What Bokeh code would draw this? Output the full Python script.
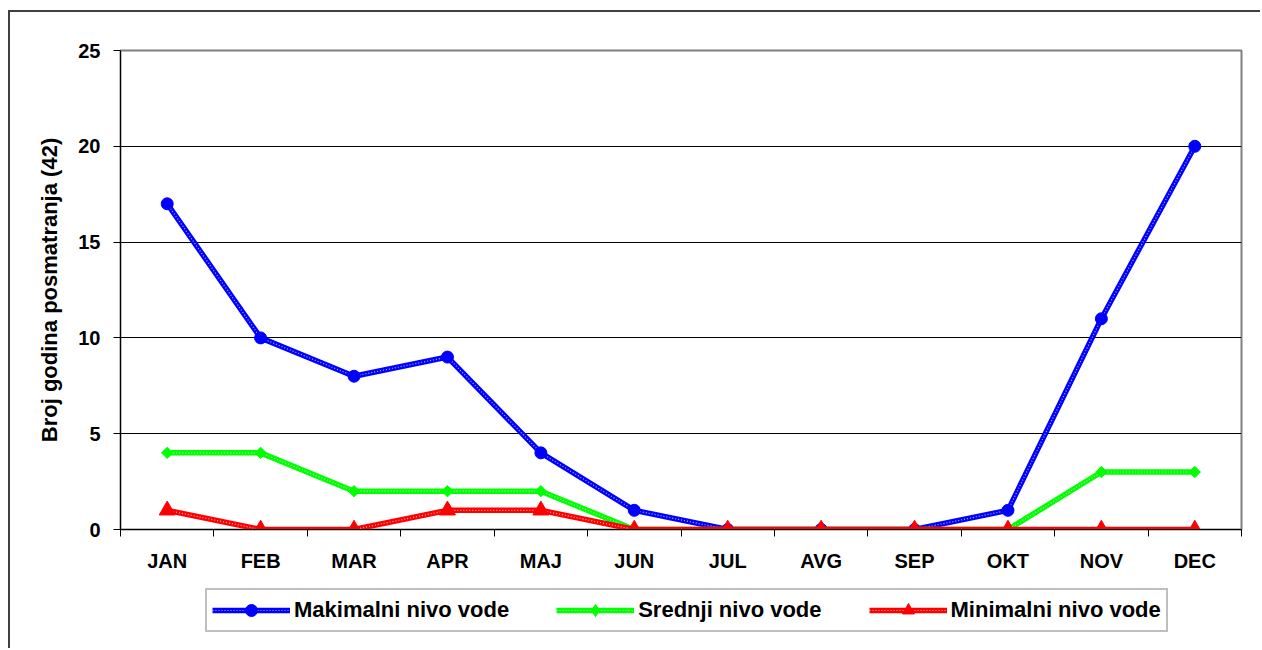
from bokeh.plotting import figure
from bokeh.layouts import column
from bokeh.models import FixedTicker, Legend, LegendItem, Range1d
from bokeh.embed import file_html
from bokeh.resources import INLINE

months = ["JAN", "FEB", "MAR", "APR", "MAJ", "JUN", "JUL", "AVG", "SEP", "OKT", "NOV", "DEC"]
maks = [17, 10, 8, 9, 4, 1, 0, 0, 0, 1, 11, 20]
sred = [4, 4, 2, 2, 2, 0, 0, 0, 0, 0, 3, 3]
mini = [1, 0, 0, 1, 1, 0, 0, 0, 0, 0, 0, 0]
y_ticks = [0, 5, 10, 15, 20, 25]
names = ["Makimalni nivo vode", "Srednji nivo vode", "Minimalni nivo vode"]

x = [i + 1 for i in range(len(months))]
FONT = "Liberation Sans"

p = figure(width=1250, height=573, output_backend="svg", toolbar_location=None,
           x_range=Range1d(0.5, len(months) + 0.5), y_range=Range1d(0, 25),
           min_border_left=110, min_border_right=19, min_border_top=38, min_border_bottom=56)
p.outline_line_color = "#808080"
p.outline_line_width = 2

p.xgrid.grid_line_color = None
p.ygrid.grid_line_color = "black"
p.ygrid.grid_line_width = 1

p.xaxis.ticker = FixedTicker(ticks=x, minor_ticks=[i + 0.5 for i in range(len(months) + 1)])
p.xaxis.major_label_overrides = {i + 1: m for i, m in enumerate(months)}
p.xaxis.major_tick_line_color = None
p.xaxis.minor_tick_in = 0
p.xaxis.minor_tick_out = 7
p.xaxis.minor_tick_line_color = "black"
p.xaxis.axis_line_color = "black"
p.xaxis.major_label_standoff = 13
p.xaxis.major_label_text_font = FONT
p.xaxis.major_label_text_font_style = "bold"
p.xaxis.major_label_text_font_size = "20px"
p.xaxis.major_label_text_color = "black"

p.yaxis.ticker = FixedTicker(ticks=y_ticks, minor_ticks=[])
p.yaxis.major_tick_in = 0
p.yaxis.major_tick_out = 7
p.yaxis.major_tick_line_color = "black"
p.yaxis.axis_line_color = "black"
p.yaxis.major_label_standoff = 13
p.yaxis.major_label_text_font = FONT
p.yaxis.major_label_text_font_style = "bold"
p.yaxis.major_label_text_font_size = "20px"
p.yaxis.major_label_text_color = "black"
p.yaxis.axis_label = "Broj godina posmatranja (42)"
p.yaxis.axis_label_text_font = FONT
p.yaxis.axis_label_text_font_style = "bold"
p.yaxis.axis_label_text_font_size = "22px"
p.yaxis.axis_label_text_color = "black"
p.yaxis.axis_label_standoff = 13

# (values, colour, chart marker, size, angle, legend marker)
series = [(maks, "#0000ff", "circle", 12, 0.0, "circle"),
          (sred, "#00ff00", "square", 8, 0.785398, "diamond"),
          (mini, "#ff0000", "triangle", 16, 0.0, "triangle")]

# legend strip below the chart (its range keeps the data out of view; only the legend shows)
q = figure(width=1250, height=63, output_backend="svg", toolbar_location=None,
           x_range=Range1d(100, 101), y_range=Range1d(100, 101), x_axis_type=None, y_axis_type=None,
           min_border=0)
q.outline_line_color = None
q.xgrid.grid_line_color = None
q.ygrid.grid_line_color = None

items = []
for (vals, col, mk, sz, ang, lmk), nm in zip(series, names):
    p.line(x, vals, line_color=col, line_width=5.5)
    p.line(x, vals, line_color="white", line_width=1.2, line_dash="1 2", line_alpha=0.7)
    p.scatter(x, vals, marker=mk, size=sz, angle=ang, fill_color=col, line_color=col)
    l1 = q.line(x, vals, line_color=col, line_width=5.5)
    l2 = q.line(x, vals, line_color="white", line_width=1.2, line_dash="1 2", line_alpha=0.7)
    l3 = q.scatter(x, vals, marker=lmk, size=sz, fill_color=col, line_color=col)
    items.append(LegendItem(label=nm, renderers=[l1, l2, l3]))

legend = Legend(items=items, orientation="horizontal", location=(85, 16))
legend.label_text_font = FONT
legend.label_text_font_style = "bold"
legend.label_text_font_size = "22px"
legend.label_text_color = "black"
legend.glyph_width = 78
legend.glyph_height = 30
legend.label_standoff = 4
legend.spacing = 47
legend.padding = 5
legend.margin = 0
legend.border_line_color = "#808080"
legend.border_line_width = 2
legend.background_fill_alpha = 1
q.add_layout(legend, "center")

layout = column(p, q, spacing=0,
                styles={"margin-left": "8px", "margin-top": "10px",
                        "border-left": "2px solid #404040", "border-top": "2px solid #404040"})

open("out.html", "w").write(file_html(layout, INLINE))
